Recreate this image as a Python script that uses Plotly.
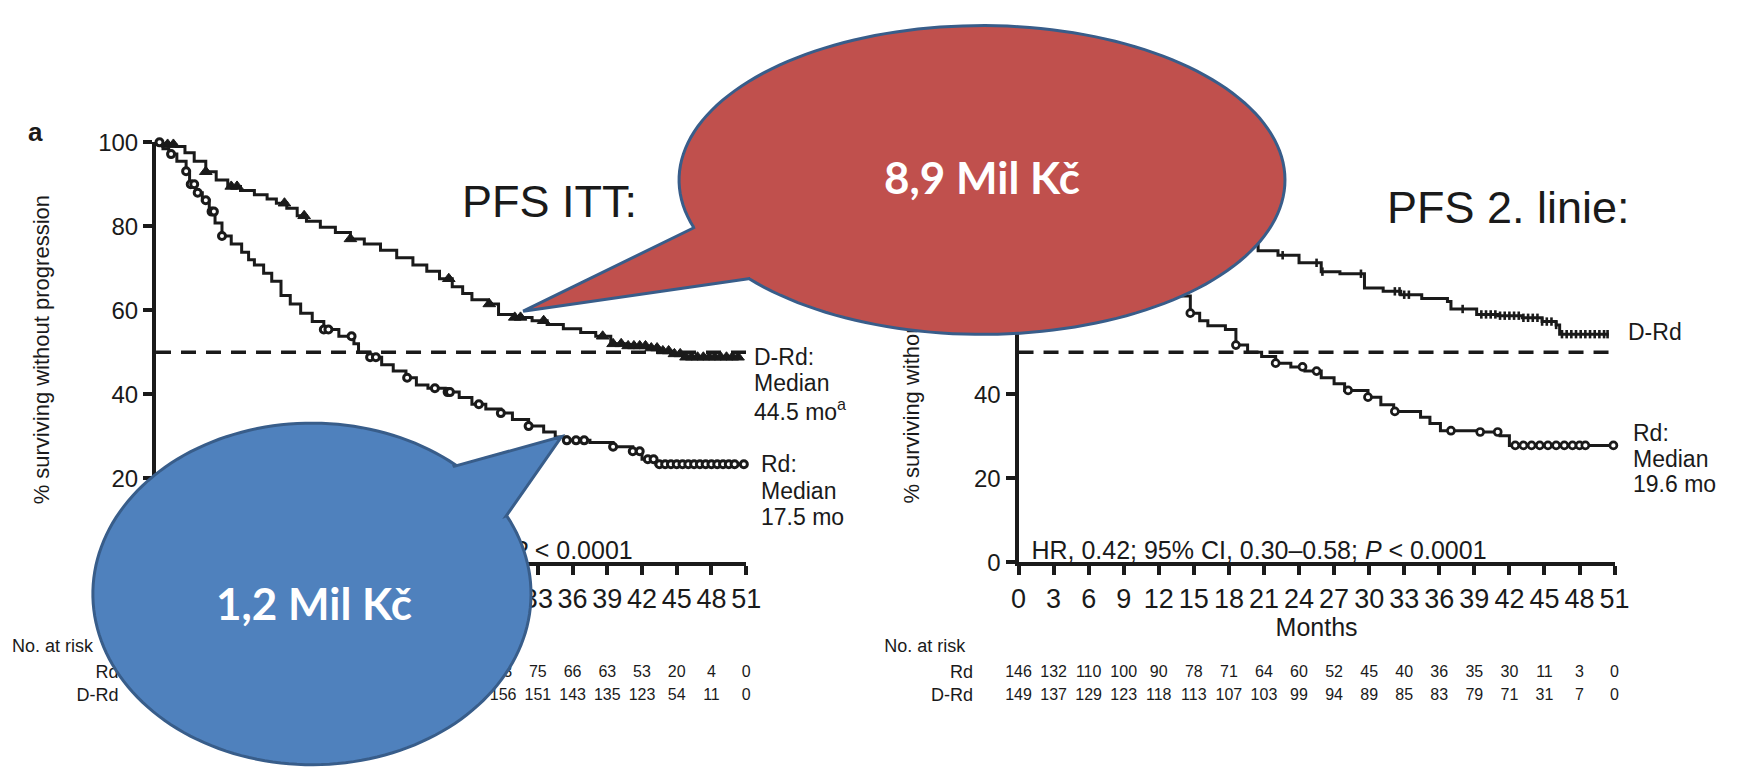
import numpy as np
import plotly.graph_objects as go

W, H = 1748, 771

# ---------------- data ----------------
# ITT population: Kaplan-Meier steps (months, % without progression)
itt_drd_t = [0, 1.0, 1.7, 2.5, 3.3, 4.3, 5.2, 6.2, 7.3, 8.5, 9.6, 10.4, 11.3, 12.2, 13.0, 14.2, 15.5,
             16.8, 18.0, 19.4, 20.8, 22.2, 23.4, 24.5, 25.6, 26.5, 27.3, 28.7, 29.6, 31.0, 32.5, 33.8,
             35.2, 36.7, 38.0, 39.3, 40.5, 42.4, 43.5, 44.5, 45.5, 50.6]
itt_drd_s = [100, 99.5, 99.0, 97.5, 95.5, 93.0, 91.0, 89.5, 88.5, 87.5, 86.5, 85.5, 84.3, 82.5, 81.2,
             79.8, 78.5, 77.0, 75.8, 74.3, 72.5, 70.8, 69.3, 67.5, 65.6, 64.0, 62.5, 61.5, 59.0, 58.3,
             57.5, 56.6, 55.6, 54.7, 53.8, 52.0, 51.5, 51.0, 50.3, 49.6, 48.8, 48.8]
itt_rd_t = [0, 0.6, 1.1, 1.8, 2.6, 2.9, 3.4, 4.0, 4.6, 5.1, 5.7, 6.5, 7.4, 8.0, 8.5, 9.3, 10.0, 10.8,
            11.6, 12.5, 13.5, 14.5, 15.8, 17.1, 17.5, 18.5, 19.5, 20.5, 21.6, 22.5, 23.5, 25.0, 26.2,
            27.3, 28.5, 29.8, 30.8, 32.2, 33.5, 34.5, 35.5, 37.5, 39.5, 41.2, 42.0, 43.2, 50.8]
itt_rd_s = [100, 98.5, 97.2, 95.5, 93.1, 90.0, 88.0, 86.2, 83.5, 80.8, 77.7, 75.8, 73.8, 72.0, 70.8,
            68.8, 66.9, 63.5, 61.5, 59.3, 57.3, 55.4, 53.8, 52.0, 50.0, 48.8, 47.0, 45.5, 43.9, 42.2,
            41.4, 40.5, 39.2, 37.6, 36.5, 35.5, 34.0, 32.4, 31.0, 29.8, 29.0, 28.5, 27.5, 26.4, 24.5,
            23.3, 23.3]
itt_drd_cens = [1.0, 1.5, 4.3, 6.5, 7.0, 11.1, 12.8, 16.8, 25.3, 28.8, 31.0, 31.5, 33.5, 38.6, 39.5,
                40.2, 40.8, 41.3, 41.8, 42.3, 42.8, 43.3, 43.8, 44.3, 44.8, 45.3, 45.8, 46.3, 46.8,
                47.3, 47.8, 48.3, 48.8, 49.3, 49.8, 50.3]
itt_rd_cens = [0.3, 1.3, 2.6, 3.0, 3.3, 3.6, 4.3, 4.8, 5.0, 5.7, 14.5, 14.9, 16.9, 18.5, 19.0, 21.7,
               24.1, 25.2, 25.4, 27.9, 29.8, 32.2, 35.5, 36.3, 37.0, 39.5, 41.2, 41.8, 42.5, 43.0,
               43.5, 44.0, 44.5, 45.0, 45.5, 46.0, 46.5, 47.0, 47.5, 48.0, 48.5, 49.0, 49.5, 50.0, 50.8]

# One prior line of therapy
l2_drd_t = [0, 0.8, 1.6, 2.5, 3.4, 4.5, 5.7, 7.0, 8.2, 9.5, 10.8, 12.2, 13.5, 15.0, 16.5, 18.0, 19.2,
            20.5, 22.2, 24.0, 25.9, 27.5, 29.6, 31.2, 32.7, 34.5, 36.7, 37.0, 39.2, 41.0, 43.1, 44.8,
            46.0, 46.3, 50.5]
l2_drd_s = [100, 98.7, 97.3, 95.5, 94.0, 92.6, 90.6, 89.3, 87.3, 85.9, 84.0, 82.6, 81.2, 79.8, 78.0,
            76.5, 75.4, 74.2, 73.1, 71.3, 69.2, 68.7, 65.3, 64.5, 63.7, 62.8, 62.1, 60.3, 59.0, 58.7,
            58.2, 57.3, 56.5, 54.3, 54.3]
l2_rd_t = [0, 0.8, 1.6, 2.4, 3.2, 4.0, 4.8, 5.6, 6.4, 7.4, 8.4, 9.4, 10.5, 11.5, 12.5, 13.7, 14.7,
           15.5, 16.2, 17.7, 18.6, 19.6, 20.8, 22.0, 23.3, 24.5, 25.9, 27.0, 27.9, 29.9, 31.0, 32.1,
           34.4, 35.2, 36.1, 39.5, 41.2, 42.0, 50.9]
l2_rd_s = [100, 97.3, 95.0, 92.5, 90.0, 86.5, 83.5, 80.5, 77.8, 75.8, 73.5, 71.5, 69.5, 67.5, 65.5,
           63.4, 59.3, 57.5, 56.3, 55.4, 51.7, 50.0, 49.0, 47.4, 46.5, 45.5, 43.9, 42.5, 40.9, 39.3,
           37.5, 35.9, 34.5, 33.0, 31.3, 31.0, 30.1, 27.8, 27.8]
l2_drd_cens = [5.0, 9.0, 14.0, 22.6, 25.5, 26.0, 29.3, 32.2, 32.6, 33.0, 33.4, 38.0, 39.6, 40.0,
               40.4, 40.8, 41.2, 41.6, 42.0, 42.4, 42.8, 43.2, 43.6, 44.0, 44.4, 44.8, 45.2, 45.6,
               46.0, 46.5, 46.9, 47.3, 47.7, 48.1, 48.5, 48.9, 49.3, 49.7, 50.1, 50.4]
l2_rd_cens = [14.7, 18.6, 22.0, 24.3, 25.5, 28.2, 29.9, 32.2, 37.0, 39.5, 41.0, 42.5, 43.2, 43.9,
              44.6, 45.3, 46.0, 46.7, 47.4, 48.0, 48.5, 50.9]

medians = {"itt_drd": "44.5", "itt_rd": "17.5", "l2_rd": "19.6"}

risk_months = list(range(0, 52, 3))
itt_rd_risk = [283, 249, 206, 181, 160, 144, 127, 112, 102, 91, 83, 75, 66, 63, 53, 20, 4, 0]
itt_drd_risk = [286, 272, 256, 247, 234, 222, 208, 192, 180, 170, 156, 151, 143, 135, 123, 54, 11, 0]
l2_rd_risk = [146, 132, 110, 100, 90, 78, 71, 64, 60, 52, 45, 40, 36, 35, 30, 11, 3, 0]
l2_drd_risk = [149, 137, 129, 123, 118, 113, 107, 103, 99, 94, 89, 85, 83, 79, 71, 31, 7, 0]

# ---------------- styling ----------------
SANS = "Liberation Sans, Arial, Helvetica, sans-serif"
NARROW = "Liberation Sans Narrow, Arial Narrow, Liberation Sans, Arial, sans-serif"
CALLOUT = "Lato, Open Sans, sans-serif"
INK = "#1a1a1a"
RED_FILL, BLUE_FILL, OUTLINE = "#C0504D", "#4F81BD", "#385D8A"


def px(x):
    return x / W


def py(y):
    return 1 - y / H


def step_at(t, s, times):
    idx = np.searchsorted(np.asarray(t), np.asarray(times), side="right") - 1
    return np.asarray(s)[idx]


fig = go.Figure()


def km(t, s, cens, xa, ya, marker):
    fig.add_trace(go.Scatter(x=t, y=s, mode="lines", line=dict(color=INK, width=3, shape="hv"),
                             xaxis=xa, yaxis=ya, cliponaxis=False, hoverinfo="skip"))
    fig.add_trace(go.Scatter(x=cens, y=step_at(t, s, cens), mode="markers", marker=marker,
                             xaxis=xa, yaxis=ya, cliponaxis=False, hoverinfo="skip"))


tri = dict(symbol="triangle-up", size=11, color=INK, line=dict(color=INK, width=1))
ring = dict(symbol="circle", size=7, color="white", line=dict(color=INK, width=3))
ring_s = dict(symbol="circle", size=7, color="white", line=dict(color=INK, width=2.7))
tick = dict(symbol="line-ns", size=6, line=dict(color=INK, width=2.6))

# median reference lines
for xa, ya in (("x", "y"), ("x2", "y2")):
    fig.add_trace(go.Scatter(x=[0, 51], y=[50, 50], mode="lines", xaxis=xa, yaxis=ya,
                             line=dict(color=INK, width=3.5, dash="15px,10px"), hoverinfo="skip"))

km(itt_drd_t, itt_drd_s, itt_drd_cens, "x", "y", tri)
km(itt_rd_t, itt_rd_s, itt_rd_cens, "x", "y", ring)
km(l2_drd_t, l2_drd_s, l2_drd_cens, "x2", "y2", tick)
km(l2_rd_t, l2_rd_s, l2_rd_cens, "x2", "y2", ring_s)


def text_trace(x, y, text, xa, ya, pos, size, family=SANS):
    fig.add_trace(go.Scatter(x=x, y=y, text=text, mode="text", textposition=pos, xaxis=xa, yaxis=ya,
                             textfont=dict(family=family, size=size, color=INK),
                             cliponaxis=False, hoverinfo="skip"))


# at-risk table: its own vertical axis (pixel rows) under each panel's month axis
ROW_MONTHS, ROW_RD, ROW_DRD = 638, 683, 707
for xa, rd, drd in (("x", itt_rd_risk, itt_drd_risk), ("x2", l2_rd_risk, l2_drd_risk)):
    text_trace(risk_months, [ROW_RD] * len(risk_months), [str(v) for v in rd], xa, "y4",
               "middle center", 16, NARROW)
    text_trace(risk_months, [ROW_DRD] * len(risk_months), [str(v) for v in drd], xa, "y4",
               "middle center", 16, NARROW)
    text_trace([25.5], [ROW_MONTHS], ["Months"], xa, "y4", "middle center", 25, NARROW)

# free labels on a full-page pixel overlay (kept beneath the callouts)
text_trace([112, 112, 978, 978], [ROW_RD, ROW_DRD, ROW_RD, ROW_DRD], ["Rd", "D-Rd", "Rd", "D-Rd"],
           "x5", "y5", "middle left", 18, NARROW)
text_trace([4, 888], [656, 656], ["No. at risk", "No. at risk"], "x5", "y5", "middle right", 18, NARROW)

text_trace([41.2], [2.2], ["HR, 0.44; 95% CI, 0.35–0.55; <i>P</i> &lt; 0.0001"], "x", "y",
           "middle left", 25)
text_trace([1.1], [2.2], ["HR, 0.42; 95% CI, 0.30–0.58; <i>P</i> &lt; 0.0001"], "x2", "y2",
           "middle right", 25)
# anchor trace for the free-standing title axis of the right panel
fig.add_trace(go.Scatter(x=[None], y=[None], xaxis="x2", yaxis="y3", hoverinfo="skip"))

# ---------------- axes ----------------
ydom = [py(568), py(133)]
common_x = dict(range=[0, 51], tickvals=risk_months, ticks="outside", ticklen=9, tickwidth=3.5,
                tickcolor=INK, showline=True, linewidth=4, linecolor=INK,
                showgrid=False, zeroline=False, tickfont=dict(family=SANS, size=27, color=INK))
common_y = dict(range=[0, 100], tickvals=[0, 20, 40, 60, 80, 100], ticks="outside", ticklen=9,
                tickwidth=3.5, tickcolor=INK, showline=True, linewidth=4,
                linecolor=INK, showgrid=False, zeroline=False, domain=ydom,
                tickfont=dict(family=SANS, size=24, color=INK))
hidden = dict(visible=False, showgrid=False, zeroline=False)

fig.update_layout(
    width=W, height=H, margin=dict(l=0, r=0, t=0, b=0),
    paper_bgcolor="white", plot_bgcolor="rgba(0,0,0,0)", showlegend=False,
    xaxis=dict(domain=[px(150), px(748)], anchor="y", **common_x),
    yaxis=dict(anchor="x", **common_y),
    xaxis2=dict(domain=[px(1024), px(1628)], anchor="y2", **common_x),
    yaxis2=dict(anchor="x2", **common_y),
    yaxis3=dict(overlaying="y2", anchor="free", position=px(928), side="left", range=[0, 100],
                tickvals=[50], ticktext=["% surviving without progression"], tickangle=-90,
                ticks="", showline=False, showgrid=False, zeroline=False,
                tickfont=dict(family=SANS, size=22, color=INK)),
    yaxis4=dict(domain=[0, py(575)], range=[H, 575], anchor="x", **hidden),
    xaxis5=dict(domain=[0, 1], range=[0, W], anchor="y5", **hidden),
    yaxis5=dict(domain=[0, 1], range=[H, 0], anchor="x5", **hidden),
)


# ---------------- callout bubbles ----------------
def bubble_path(cx, cy, rx, ry, a, b, tip, n=160):
    ang_a = np.arctan2((a[1] - cy) / ry, (a[0] - cx) / rx)
    ang_b = np.arctan2((b[1] - cy) / ry, (b[0] - cx) / rx)
    if ang_a > ang_b:
        angs = np.linspace(ang_b, ang_a - 2 * np.pi, n)
    else:
        angs = np.linspace(ang_b, ang_a + 2 * np.pi, n)
    pts = [a, tip, b] + [(cx + rx * np.cos(t), cy + ry * np.sin(t)) for t in angs]
    return "M " + " L ".join(f"{px(x):.5f},{py(y):.5f}" for x, y in pts) + " Z"


fig.add_shape(type="path", xref="paper", yref="paper", layer="above",
              path=bubble_path(987, 172, 307, 160, (696, 221), (752, 274), (522, 308)),
              fillcolor=RED_FILL, line=dict(color=OUTLINE, width=3))
fig.add_shape(type="path", xref="paper", yref="paper", layer="above",
              path=bubble_path(308, 601, 222, 177, (451, 469), (505, 520), (561, 438)),
              fillcolor=BLUE_FILL, line=dict(color=OUTLINE, width=3))


# ---------------- annotations ----------------
def note(x, y, text, size, family=SANS, xanchor="left", color=INK, angle=0):
    fig.add_annotation(x=px(x), y=py(y), xref="paper", yref="paper", text=text, showarrow=False,
                       xanchor=xanchor, yanchor="middle", textangle=angle,
                       font=dict(family=family, size=size, color=color))


note(28, 122, "<b>a</b>", 26, xanchor="center")
note(34, 348, "% surviving without progression", 22, xanchor="center", angle=-90)
note(458, 194, "PFS ITT:", 45)
note(1395, 201, "PFS 2. linie:", 45)

note(754, 355, "D-Rd:", 23)
note(754, 382, "Median", 23)
note(754, 410, f"{medians['itt_drd']} mo<sup>a</sup>", 23)
note(761, 466, "Rd:", 23)
note(761, 494, "Median", 23)
note(761, 521, f"{medians['itt_rd']} mo", 23)
note(1640, 330, "D-Rd", 23)
note(1645, 434, "Rd:", 23)
note(1645, 461, "Median", 23)
note(1645, 487, f"{medians['l2_rd']} mo", 23)

note(987, 169, "<b>8,9 Mil Kč</b>", 44, CALLOUT, xanchor="center", color="white")
note(310, 610, "<b>1,2 Mil Kč</b>", 44, CALLOUT, xanchor="center", color="white")

fig.write_html("out.html")
